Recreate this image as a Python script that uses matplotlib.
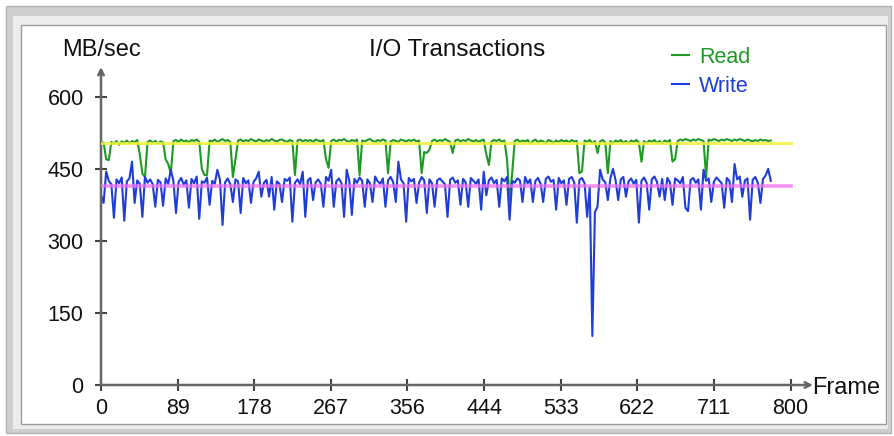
import numpy as np
import matplotlib.pyplot as plt
from matplotlib.patches import Rectangle

plt.rcParams['font.family'] = ['Liberation Sans', 'DejaVu Sans']

W, H = 895, 436

# one sample every 3 frames, values in MB/sec
frames = np.arange(0, 780, 3)

read_mb = [
    500, 505, 470, 468, 506, 502, 508, 500, 507, 504, 509, 503, 508, 505, 510, 480, 440, 433, 506, 509,
    504, 508, 502, 507, 505, 470, 460, 441, 508, 510, 506, 511, 507, 509, 505, 510, 508, 511, 506, 450,
    437, 437, 509, 507, 511, 506, 509, 512, 508, 510, 506, 433, 470, 509, 511, 507, 510, 508, 512, 509,
    507, 511, 509, 506, 510, 508, 512, 509, 507, 510, 511, 508, 506, 510, 508, 437, 509, 511, 507, 510,
    508, 510, 506, 511, 509, 507, 510, 470, 452, 508, 511, 507, 510, 509, 512, 508, 506, 510, 508, 511,
    437, 509, 507, 510, 512, 508, 506, 510, 508, 511, 509, 441, 507, 510, 508, 506, 511, 509, 507, 510,
    508, 511, 507, 509, 441, 485, 483, 490, 508, 511, 507, 510, 508, 512, 509, 506, 483, 509, 511, 507,
    510, 508, 512, 509, 507, 510, 506, 509, 511, 480, 458, 507, 510, 508, 511, 506, 509, 470, 385, 441,
    508, 511, 506, 509, 507, 510, 502, 508, 511, 505, 509, 507, 503, 510, 508, 504, 509, 506, 510, 507,
    509, 505, 510, 507, 508, 441, 445, 509, 506, 510, 503, 508, 483, 507, 510, 505, 441, 508, 503, 509,
    506, 510, 504, 508, 502, 509, 506, 510, 505, 465, 508, 503, 509, 506, 510, 504, 508, 502, 509, 506,
    510, 465, 470, 508, 511, 509, 512, 510, 508, 511, 509, 512, 510, 508, 433, 511, 509, 512, 510, 508,
    511, 509, 512, 510, 508, 511, 509, 512, 510, 508, 511, 509, 507, 510, 508, 511, 509, 510, 508, 509,
]

write_mb = [
    395, 379, 444, 425, 418, 348, 428, 420, 432, 342, 424, 430, 465, 379, 426, 419, 350, 433, 421, 428,
    418, 371, 427, 422, 373, 430, 419, 448, 425, 358, 423, 431, 417, 426, 369, 429, 420, 434, 346, 424,
    421, 432, 375, 425, 419, 448, 427, 333, 422, 430, 418, 381, 428, 424, 358, 431, 420, 426, 379, 423,
    430, 444, 392, 421, 427, 392, 433, 365, 424, 419, 381, 429, 425, 432, 340, 421, 428, 418, 444, 350,
    426, 431, 385, 422, 428, 419, 371, 433, 425, 448, 371, 424, 430, 420, 350, 448, 426, 354, 429, 421,
    432, 425, 371, 428, 420, 381, 434, 424, 419, 430, 371, 426, 433, 422, 381, 465, 428, 420, 340, 431,
    424, 429, 379, 421, 433, 426, 358, 428, 420, 371, 426, 430, 424, 418, 350, 427, 432, 421, 426, 375,
    429, 422, 371, 431, 425, 419, 428, 365, 444, 395, 426, 432, 420, 427, 371, 430, 424, 433, 344, 425,
    421, 430, 426, 381, 433, 420, 428, 381, 425, 431, 419, 381, 429, 434, 423, 427, 365, 431, 420, 426,
    375, 429, 433, 422, 338, 427, 431, 420, 350, 412, 102, 360, 371, 448, 428, 422, 385, 431, 450, 426,
    385, 428, 433, 392, 424, 430, 419, 427, 338, 425, 432, 421, 365, 428, 434, 423, 392, 429, 385, 431,
    422, 375, 430, 426, 420, 433, 369, 362, 427, 431, 421, 428, 365, 448, 425, 430, 381, 423, 432, 426,
    420, 369, 431, 425, 381, 460, 428, 434, 392, 426, 430, 344, 427, 433, 421, 379, 429, 436, 450, 425,
]

read_avg = 504
write_avg = 415

x_ticks = np.linspace(0, 800, 10)
x_labels = ['0', '89', '178', '267', '356', '444', '533', '622', '711', '800']
y_ticks = [0, 150, 300, 450, 600]

fig = plt.figure(figsize=(W / 100, H / 100), dpi=100)
fig.patch.set_facecolor('white')


def box(x0, y0, x1, y1, **kw):
    # rectangle given in image pixels (origin top left)
    fig.add_artist(Rectangle((x0 / W, 1 - y1 / H), (x1 - x0) / W, (y1 - y0) / H,
                             transform=fig.transFigure, **kw))


# window frame
box(6, 6, 891, 433, facecolor='#cfcfcf', edgecolor='#b4b4b4', lw=1, zorder=0)
box(13, 16, 888, 429, facecolor='#ececec', edgecolor='none', zorder=0)
box(21, 25, 886, 424, facecolor='white', edgecolor='#9c9c9c', lw=1, zorder=0)

ax = fig.add_axes([101 / W, 1 - 385 / H, (813 - 101) / W, (385 - 67) / H])
ax.set_facecolor('none')
ax.set_xlim(0, 826)
ax.set_ylim(0, 662)
for s in ax.spines.values():
    s.set_visible(False)

ax.plot(frames, read_mb, color='#1e9a24', lw=1.5, label='Read', zorder=3)
ax.plot(frames, write_mb, color='#1f3cd6', lw=1.5, label='Write', zorder=3)
ax.plot([0, 800], [read_avg, read_avg], color='#f2f23a', lw=2.2, alpha=0.85, zorder=4)
ax.plot([0, 800], [write_avg, write_avg], color='#f070f0', lw=2.6, alpha=0.75, zorder=4)

# arrow axes
ax.annotate('', xy=(826, 0), xytext=(0, 0), annotation_clip=False,
            arrowprops=dict(arrowstyle='->', color='#666666', lw=1.8, shrinkA=0, shrinkB=0))
ax.annotate('', xy=(0, 662), xytext=(0, 0), annotation_clip=False,
            arrowprops=dict(arrowstyle='->', color='#666666', lw=1.8, shrinkA=0, shrinkB=0))

ax.set_xticks(x_ticks)
ax.set_xticklabels(x_labels)
ax.set_yticks(y_ticks)
ax.tick_params(direction='inout', length=9, width=1.5, color='#444444',
               labelsize=15.5, labelcolor='#111111')
ax.tick_params(axis='x', pad=5)
ax.tick_params(axis='y', pad=8)

fig.text(102 / W, 1 - 50 / H, 'MB/sec', ha='center', va='center', fontsize=17, color='#111111')
fig.text(457 / W, 1 - 50 / H, 'I/O Transactions', ha='center', va='center', fontsize=17.5, color='#111111')
fig.text(812 / W, 1 - 388 / H, 'Frame', ha='left', va='center', fontsize=17, color='#111111')

ax.legend(loc='upper left', bbox_to_anchor=(672 / W, 1 - 47 / H), bbox_transform=fig.transFigure,
          frameon=False, handlelength=0.8, handletextpad=0.45, labelspacing=0.35,
          fontsize=15.5, labelcolor='linecolor', borderpad=0, borderaxespad=0)

fig.savefig('out.png', dpi=100)
